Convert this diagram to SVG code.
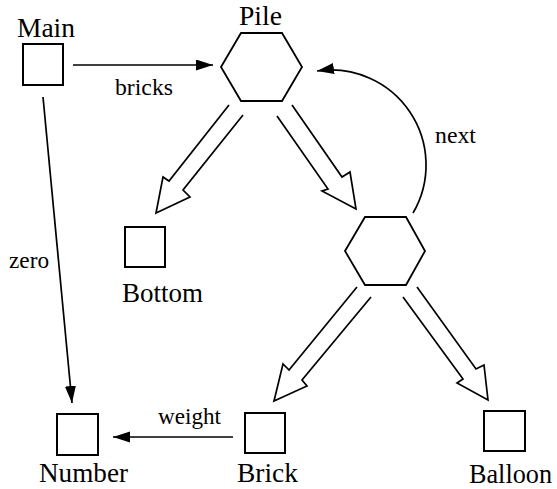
<svg xmlns="http://www.w3.org/2000/svg" width="557" height="489" viewBox="0 0 557 489">
<style>
.box{fill:#fff;stroke:#000;stroke-width:2}
.hex{fill:#fff;stroke:#000;stroke-width:1.8}
.ln{fill:none;stroke:#000;stroke-width:1.7}
.blk{fill:none;stroke:#000;stroke-width:1.7;stroke-linejoin:miter}
.big{font-size:27px;fill:#000}
.sm{font-size:23px;fill:#000}
</style>
<defs>
<marker id="ah" markerUnits="userSpaceOnUse" markerWidth="18" markerHeight="12" refX="17" refY="5.5" orient="auto">
<path d="M0,0 L17,5.5 L0,11 z" fill="#000"/>
</marker>
</defs>
<rect width="557" height="489" fill="#fff"/>
<g id="connectors">
<line class="ln" x1="73" y1="65" x2="213" y2="65" marker-end="url(#ah)"/>
<line class="ln" x1="43" y1="97" x2="72" y2="403" marker-end="url(#ah)"/>
<line class="ln" x1="233" y1="437" x2="113" y2="437" marker-end="url(#ah)"/>
<path class="ln" d="M413,213 A95,95 0 0 0 317,71" marker-end="url(#ah)"/>
<polyline class="blk" points="229,105 169,181 163,177 156,213 190,197 183,190 243,115"/>
<polyline class="blk" points="277,116 328,189 322,191 356,209 350,172 342,177 292,105"/>
<polyline class="blk" points="357,287 289,370 283,364 274,401 307,386 302,380 371,297"/>
<polyline class="blk" points="403,297 463,379 457,383 488,400 484,365 476,369 417,287"/>
<text class="sm" font-family="Liberation Serif" x="115" y="95" textLength="58" lengthAdjust="spacingAndGlyphs">bricks</text>
<text class="sm" font-family="Liberation Serif" x="9" y="268" textLength="40" lengthAdjust="spacingAndGlyphs">zero</text>
<text class="sm" font-family="Liberation Serif" x="435" y="143" textLength="41" lengthAdjust="spacingAndGlyphs">next</text>
<text class="sm" font-family="Liberation Serif" x="158" y="424" textLength="63" lengthAdjust="spacingAndGlyphs">weight</text>
</g>
<g id="Main">
<rect class="box" x="23" y="44" width="40" height="41"/>
<text class="big" font-family="Liberation Serif" x="17" y="37" textLength="58" lengthAdjust="spacingAndGlyphs">Main</text>
</g>
<g id="Pile">
<polygon class="hex" points="221,67 241,33 282,33 302,67 282,101 241,101"/>
<text class="big" font-family="Liberation Serif" x="239" y="25" textLength="43" lengthAdjust="spacingAndGlyphs">Pile</text>
</g>
<g id="Next">
<polygon class="hex" points="345,251 365,217 406,217 425,251 406,285 365,285"/>
</g>
<g id="Bottom">
<rect class="box" x="125" y="227" width="40" height="40"/>
<text class="big" font-family="Liberation Serif" x="122" y="302" textLength="81" lengthAdjust="spacingAndGlyphs">Bottom</text>
</g>
<g id="Number">
<rect class="box" x="57" y="414" width="41" height="41"/>
<text class="big" font-family="Liberation Serif" x="39" y="482" textLength="89" lengthAdjust="spacingAndGlyphs">Number</text>
</g>
<g id="Brick">
<rect class="box" x="245" y="413" width="40" height="40"/>
<text class="big" font-family="Liberation Serif" x="237" y="482" textLength="61" lengthAdjust="spacingAndGlyphs">Brick</text>
</g>
<g id="Balloon">
<rect class="box" x="484" y="411" width="41" height="40"/>
<text class="big" font-family="Liberation Serif" x="469" y="483" textLength="83" lengthAdjust="spacingAndGlyphs">Balloon</text>
</g>
</svg>
